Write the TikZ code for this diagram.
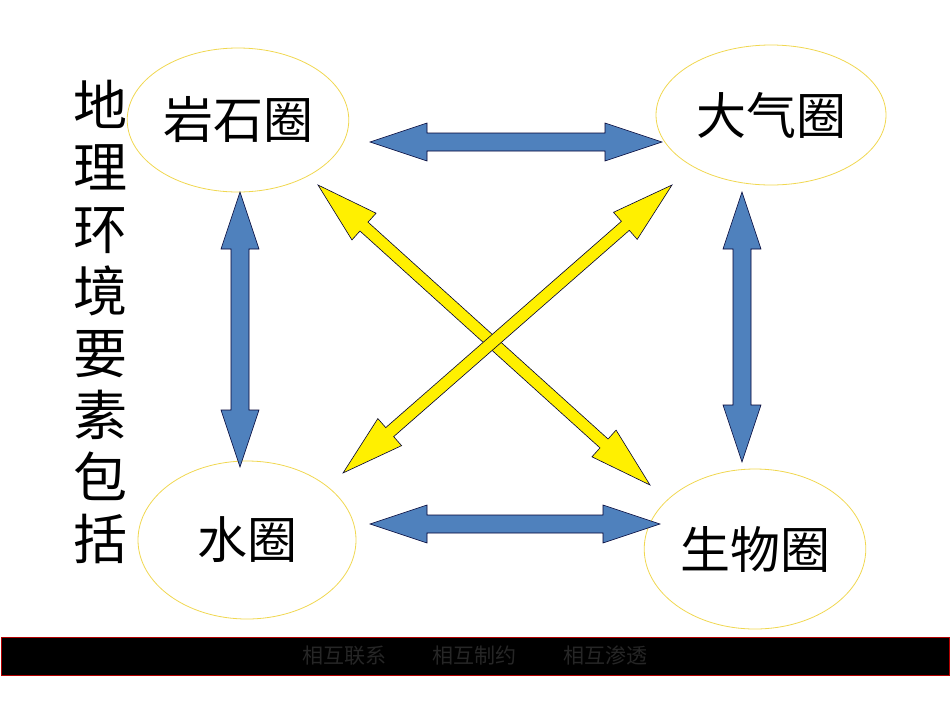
\documentclass[tikz,border=0pt]{standalone}
\usepackage{fontspec}
\newfontfamily\cjk{Noto Sans CJK SC}[Scale=1]
\usetikzlibrary{shapes.geometric}
\definecolor{ablue}{RGB}{79,129,189}
\definecolor{ayel}{RGB}{255,240,0}
\definecolor{eyel}{RGB}{240,215,80}
\tikzset{sphere/.style={draw=eyel,line width=0.8pt,ellipse,font=\cjk\fontsize{50}{52}\selectfont}}
\newcommand\dblarrow[8]{%
 \pgfmathsetmacro\dang{-atan2(#4-#2,#3-#1)}%
 \pgfmathsetmacro\dlen{veclen(#3-#1,#4-#2)}%
 \begin{scope}[shift={(#1,#2)},rotate=\dang]
 \draw[fill=#8,draw=black!80!blue,line width=0.6pt] (0,0) -- (#7,#6) -- (#7,#5) -- (\dlen-#7,#5) -- (\dlen-#7,#6) -- (\dlen,0)
 -- (\dlen-#7,-#6) -- (\dlen-#7,-#5) -- (#7,-#5) -- (#7,-#6) -- cycle;
 \end{scope}}
\begin{document}
\begin{tikzpicture}[x=1pt,y=-1pt]
\useasboundingbox (0,0) rectangle (950,713);
\node[sphere,minimum width=220pt,minimum height=144pt] (ys) at (238,120) {岩石圈};
\node[sphere,minimum width=230pt,minimum height=140pt] (dq) at (771,115) {大气圈};
\node[sphere,minimum width=218pt,minimum height=158pt] (sq) at (247,540) {水圈};
\node[sphere,minimum width=218pt,minimum height=160pt] (sw) at (755,549) {生物圈};
\dblarrow{370}{142}{662}{142}{9}{19}{57}{ablue}
\dblarrow{370}{524}{660}{524}{9}{19}{57}{ablue}
\dblarrow{240}{192}{240}{467}{9}{19}{57}{ablue}
\dblarrow{742}{192}{742}{462}{9}{19}{57}{ablue}
\dblarrow{318}{185}{650}{485}{6}{18}{62}{ayel}
\dblarrow{672}{185}{343}{473}{6}{18}{62}{ayel}
\node[font=\cjk\fontsize{54}{62}\selectfont,align=center,inner sep=0] (title) at (100,322) {地\\理\\环\\境\\要\\素\\包\\括};
\node[draw=red!70!black,line width=1pt,fill=black,minimum width=948pt,minimum height=38pt,inner sep=0,
 font=\cjk\fontsize{21}{22}\selectfont,text=black!85!white] (bar) at (475,656) {相互联系\hspace{2.2em}相互制约\hspace{2.2em}相互渗透};
\end{tikzpicture}
\end{document}
